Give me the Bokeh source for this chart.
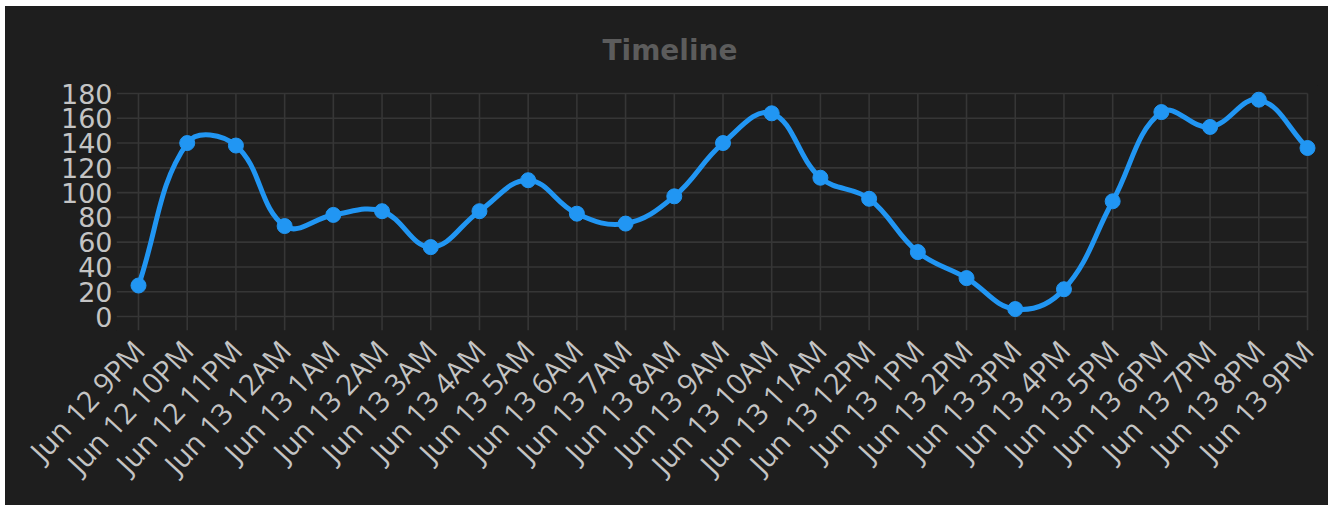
import math
from bokeh.plotting import figure
from bokeh.models import Range1d, FixedTicker
from bokeh.embed import file_html
from bokeh.resources import INLINE

# ---- data ----
tick_labels = ["Jun 12 9PM", "Jun 12 10PM", "Jun 12 11PM", "Jun 13 12AM", "Jun 13 1AM",
               "Jun 13 2AM", "Jun 13 3AM", "Jun 13 4AM", "Jun 13 5AM", "Jun 13 6AM",
               "Jun 13 7AM", "Jun 13 8AM", "Jun 13 9AM", "Jun 13 10AM", "Jun 13 11AM",
               "Jun 13 12PM", "Jun 13 1PM", "Jun 13 2PM", "Jun 13 3PM", "Jun 13 4PM",
               "Jun 13 5PM", "Jun 13 6PM", "Jun 13 7PM", "Jun 13 8PM", "Jun 13 9PM"]
values = [25, 140, 138, 73, 82, 85, 56, 85, 110, 83, 75, 97, 140, 164, 112,
          95, 52, 31, 6, 22, 93, 165, 153, 175, 136]
y_ticks = [0, 20, 40, 60, 80, 100, 120, 140, 160, 180]

BG = "#1e1e1e"
GRID = "#363636"
BLUE = "#2196f3"
LBL = "#c4c4c4"

xs = list(range(len(values)))
n = len(values)
y_max = y_ticks[-1]

# geometry (pixels)
W, H = 1323, 499
PX_X = 48.7          # px per hour
PX_Y = 223 / 180.0   # px per unit
PAD_L, PAD_R, PAD_B, PAD_T = 22, 10, 14, 8
x_start = -PAD_L / PX_X
x_end = (n - 1) + PAD_R / PX_X
y_start = -PAD_B / PX_Y
y_end = y_max + PAD_T / PX_Y

p = figure(width=W, height=H, output_backend="svg", toolbar_location=None,
           x_range=Range1d(x_start, x_end), y_range=Range1d(y_start, y_end),
           min_border_left=111, min_border_right=11, min_border_top=79, min_border_bottom=175,
           title="Timeline")
p.margin = (6, 0, 0, 5)
p.styles = {"background-color": BG}
p.background_fill_color = BG
p.border_fill_color = BG
p.outline_line_color = None

p.title.align = "left"
p.title.offset = 486
p.title.text_color = "#5c5c5c"
p.title.text_font = "DejaVu Sans"
p.title.text_font_size = "28px"
p.title.text_font_style = "bold"
p.title.standoff = 37

# x axis (labels only)
p.xaxis.ticker = FixedTicker(ticks=xs)
p.xaxis.major_label_overrides = {i: t for i, t in enumerate(tick_labels)}
p.xaxis.major_label_orientation = math.radians(47)
p.xaxis.major_label_text_font = "Open Sans"
p.xaxis.major_label_text_font_size = "29px"
p.xaxis.major_label_text_color = LBL
p.xaxis.major_tick_line_color = None
p.xaxis.minor_tick_line_color = None
p.xaxis.axis_line_color = None
p.xaxis.major_tick_out = 0
p.xaxis.major_label_standoff = 14

# y axis (labels only)
p.yaxis.ticker = FixedTicker(ticks=y_ticks)
p.yaxis.major_label_text_font = "DejaVu Sans"
p.yaxis.major_label_text_font_size = "27px"
p.yaxis.major_label_text_color = LBL
p.yaxis.major_tick_line_color = None
p.yaxis.minor_tick_line_color = None
p.yaxis.axis_line_color = None
p.yaxis.major_tick_out = 0
p.yaxis.major_label_standoff = 4

p.xgrid.grid_line_color = None
p.ygrid.grid_line_color = None

# grid lines (with tick extensions) from the tick arrays
p.segment(x0=[x_start] * len(y_ticks), y0=y_ticks, x1=[n - 1] * len(y_ticks), y1=y_ticks,
          line_color=GRID, line_width=1.6)
p.segment(x0=xs, y0=[y_start] * n, x1=xs, y1=[y_max] * n,
          line_color=GRID, line_width=1.6)

# smooth curve: bezier control points (tension 0.4) computed in pixel space
pts = [(x * PX_X, v * PX_Y) for x, v in zip(xs, values)]
t = 0.4
prev_cp, next_cp = [], []
for i in range(n):
    cur = pts[i]
    pr = pts[i - 1] if i > 0 else cur
    nx = pts[i + 1] if i < n - 1 else cur
    d01 = math.hypot(cur[0] - pr[0], cur[1] - pr[1])
    d12 = math.hypot(nx[0] - cur[0], nx[1] - cur[1])
    tot = d01 + d12
    s01 = d01 / tot if tot else 0
    s12 = d12 / tot if tot else 0
    fa, fb = t * s01, t * s12
    prev_cp.append((cur[0] - fa * (nx[0] - pr[0]), cur[1] - fa * (nx[1] - pr[1])))
    next_cp.append((cur[0] + fb * (nx[0] - pr[0]), cur[1] + fb * (nx[1] - pr[1])))

p.bezier(x0=xs[:-1], y0=values[:-1], x1=xs[1:], y1=values[1:],
         cx0=[next_cp[i][0] / PX_X for i in range(n - 1)],
         cy0=[next_cp[i][1] / PX_Y for i in range(n - 1)],
         cx1=[prev_cp[i + 1][0] / PX_X for i in range(n - 1)],
         cy1=[prev_cp[i + 1][1] / PX_Y for i in range(n - 1)],
         line_color=BLUE, line_width=5)
p.scatter(xs, values, size=15, fill_color=BLUE, line_color=BLUE)

open("out.html", "w").write(file_html(p, INLINE))
